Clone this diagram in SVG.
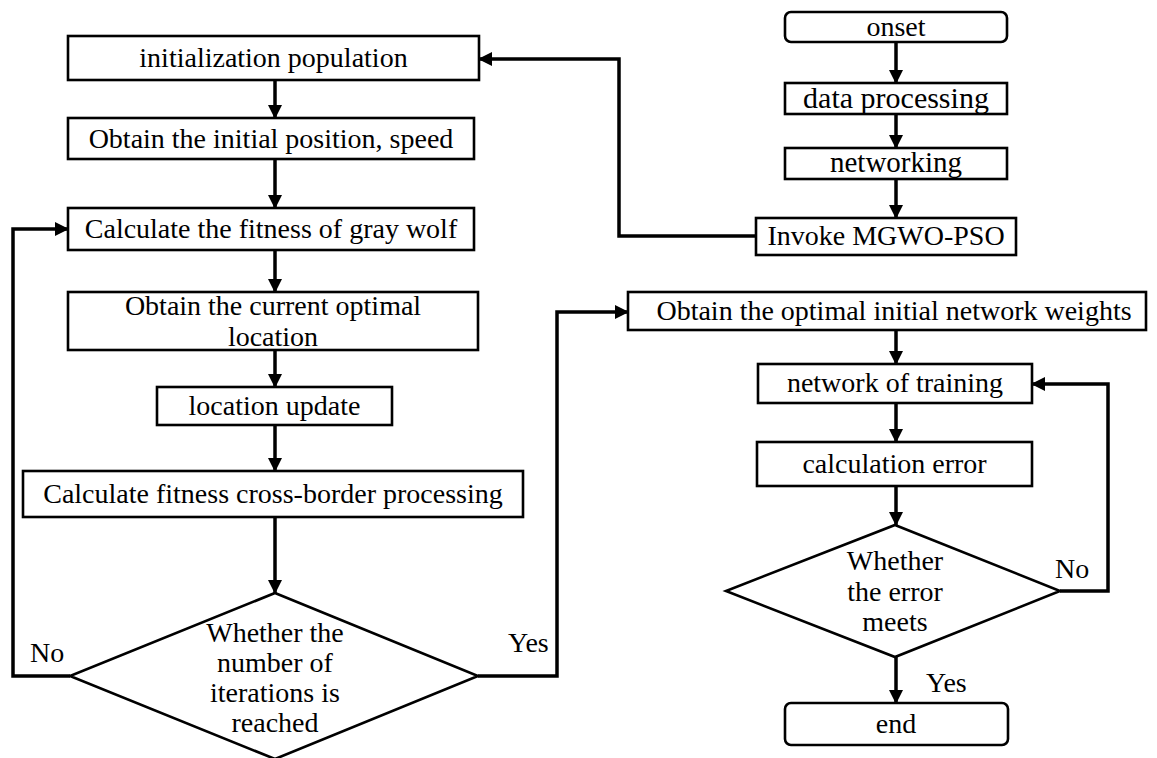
<svg xmlns="http://www.w3.org/2000/svg" width="1157" height="758" viewBox="0 0 1157 758">
<defs>
<marker id="ah" viewBox="0 0 14 14" markerWidth="14" markerHeight="14" refX="13" refY="7" orient="auto" markerUnits="userSpaceOnUse">
<path d="M0,0 L14,7 L0,14 z" fill="#000"/>
</marker>
</defs>
<style>
.box{fill:#fff;stroke:#000;stroke-width:2.6}
.t{font-family:"Liberation Serif","Times New Roman",serif;font-size:28px;fill:#000;text-anchor:middle}
.lbl{font-family:"Liberation Serif","Times New Roman",serif;font-size:28px;fill:#000}
.c{fill:none;stroke:#000;stroke-width:3.5}
.ca{fill:none;stroke:#000;stroke-width:3.5;marker-end:url(#ah)}
</style>
<rect width="1157" height="758" fill="#fff"/>
<g id="connectors">
<line class="ca" x1="275" y1="80" x2="275" y2="118"/>
<line class="ca" x1="275" y1="159" x2="275" y2="208"/>
<line class="ca" x1="275" y1="250" x2="275" y2="292"/>
<line class="ca" x1="275" y1="350" x2="275" y2="387"/>
<line class="ca" x1="275" y1="425" x2="275" y2="471"/>
<line class="ca" x1="275" y1="517" x2="275" y2="593"/>
<polyline class="ca" points="70,676 13,676 13,229 68,229"/>
<polyline class="ca" points="478,676 557,676 557,312 628,312"/>
<line class="ca" x1="896" y1="42" x2="896" y2="83"/>
<line class="ca" x1="896" y1="114" x2="896" y2="148"/>
<line class="ca" x1="896" y1="179" x2="896" y2="218"/>
<polyline class="ca" points="756,236 619,236 619,59 479,59"/>
<line class="ca" x1="896" y1="330" x2="896" y2="364"/>
<line class="ca" x1="896" y1="403" x2="896" y2="442"/>
<line class="ca" x1="896" y1="486" x2="896" y2="525"/>
<polyline class="ca" points="1060,591 1108,591 1108,384 1032,384"/>
<line class="ca" x1="896" y1="657" x2="896" y2="703"/>
<text class="lbl" x="30" y="662">No</text>
<text class="lbl" x="508" y="652">Yes</text>
<text class="lbl" x="1055" y="578">No</text>
<text class="lbl" x="926" y="692">Yes</text>
</g>
<g id="init-pop"><rect class="box" x="68" y="36" width="411" height="44"/><text class="t" x="273.5" y="67">initialization population</text></g>
<g id="init-pos"><rect class="box" x="68" y="118" width="406" height="41"/><text class="t" x="271" y="148">Obtain the initial position, speed</text></g>
<g id="calc-fit"><rect class="box" x="68" y="208" width="406" height="42"/><text class="t" x="271" y="238">Calculate the fitness of gray wolf</text></g>
<g id="cur-opt"><rect class="box" x="68" y="292" width="410" height="58"/><text class="t" x="273" y="315">Obtain the current optimal</text><text class="t" x="273" y="346">location</text></g>
<g id="loc-upd"><rect class="box" x="157" y="387" width="235" height="38"/><text class="t" x="274.5" y="415">location update</text></g>
<g id="cross-border"><rect class="box" x="23" y="471" width="500" height="46"/><text class="t" x="273" y="503">Calculate fitness cross-border processing</text></g>
<g id="iter-check"><polygon class="box" points="275,593 478,676 275,759 70,676"/><text class="t" x="275" y="642">Whether the</text><text class="t" x="275" y="672">number of</text><text class="t" x="275" y="702">iterations is</text><text class="t" x="275" y="732">reached</text></g>
<g id="onset"><rect class="box" x="785" y="12" width="222" height="30" rx="6"/><text class="t" x="896" y="36">onset</text></g>
<g id="data-proc"><rect class="box" x="785" y="83" width="222" height="31"/><text class="t" x="896" y="108" style="font-size:30px">data processing</text></g>
<g id="networking"><rect class="box" x="785" y="148" width="222" height="31"/><text class="t" x="896" y="172" style="font-size:29px">networking</text></g>
<g id="invoke"><rect class="box" x="756" y="218" width="260" height="37"/><text class="t" x="886" y="245">Invoke MGWO-PSO</text></g>
<g id="opt-weights"><rect class="box" x="628" y="292" width="518" height="38"/><text class="t" x="894" y="320">Obtain the optimal initial network weights</text></g>
<g id="training"><rect class="box" x="758" y="364" width="274" height="39"/><text class="t" x="895" y="392">network of training</text></g>
<g id="calc-err"><rect class="box" x="757" y="442" width="275" height="44"/><text class="t" x="894.5" y="473">calculation error</text></g>
<g id="err-check"><polygon class="box" points="895,525 1060,591 895,657 726,591"/><text class="t" x="895" y="570">Whether</text><text class="t" x="895" y="601">the error</text><text class="t" x="895" y="631">meets</text></g>
<g id="end"><rect class="box" x="785" y="703" width="223" height="42" rx="6"/><text class="t" x="896" y="733">end</text></g>
</svg>
